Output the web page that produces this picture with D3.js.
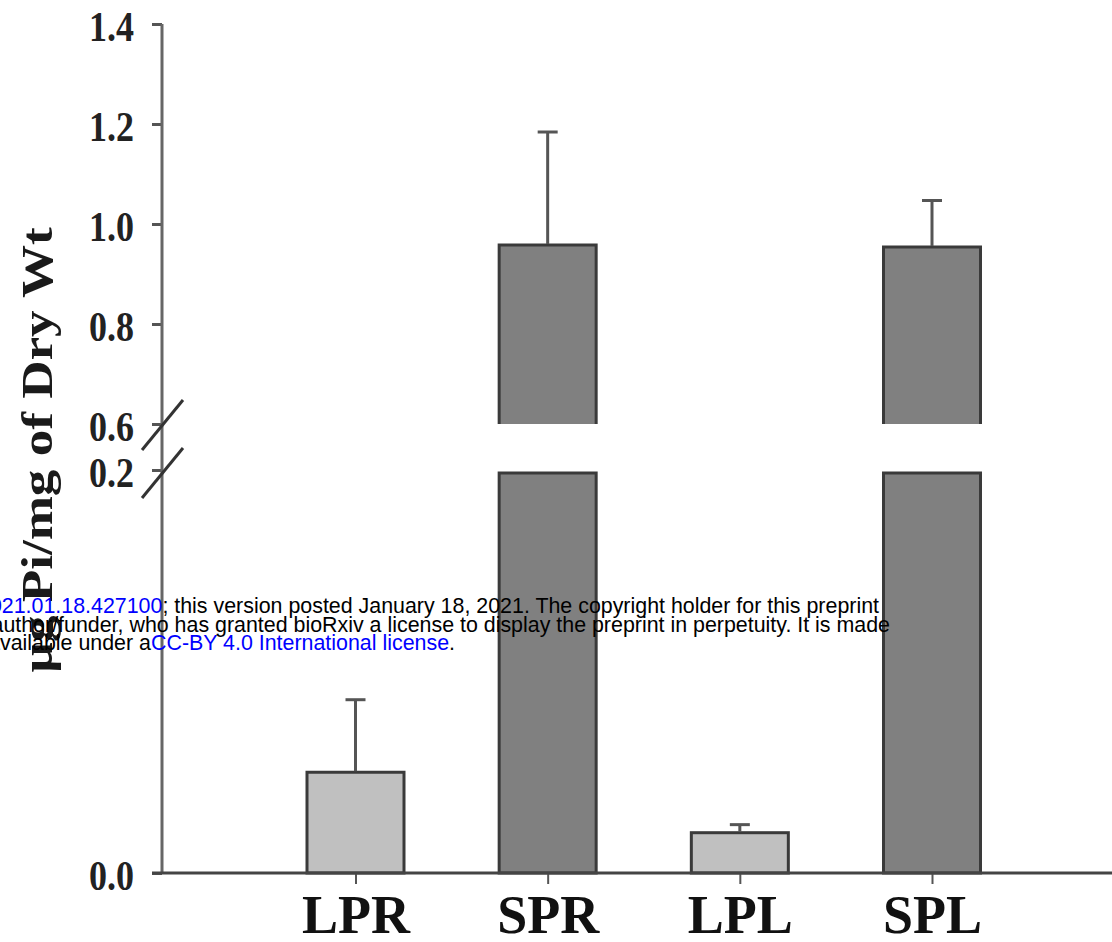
<!DOCTYPE html>
<html>
<head>
<meta charset="utf-8">
<script src="https://cdn.jsdelivr.net/npm/d3@7"></script>
<style>
    html, body { margin: 0; padding: 0; background: #fff; }
    svg { display: block; }
</style>
</head>
<body>
<div id="chart"></div>
<script>
const categories = ["LPR", "SPR", "LPL", "SPL"];
const means = [0.050, 0.958, 0.020, 0.954];
const errors = [0.036, 0.226, 0.004, 0.093];
const phosphate = ["low", "sufficient", "low", "sufficient"];
const upperTicks = [0.6, 0.8, 1.0, 1.2, 1.4];
const lowerTicks = [0.0, 0.2];
const yTitle = "\u00b5g Pi/mg of Dry Wt";

(function () {

    const width = 1112, height = 942;
    const axisX = 162;

    const svg = d3.select("#chart")
        .append("svg")
        .attr("width", width)
        .attr("height", height);

    // broken y axis: two linear pieces
    const yUpper = d3.scaleLinear().domain([0.6, 1.4]).range([424, 24]);
    const yLower = d3.scaleLinear().domain([0, 0.2]).range([873, 470]);
    const xScale = d3.scalePoint().domain(categories).range([355.5, 932]);
    const barW = 97;
    const fill = d => d === "low" ? "#c0c0c0" : "#808080";

    const data = categories.map((c, i) => ({ cat: c, mean: means[i], err: errors[i], p: phosphate[i] }));

    // bars, lower piece
    svg.append("g")
        .selectAll("rect")
        .data(data)
        .enter()
        .append("rect")
        .attr("x", d => xScale(d.cat) - barW / 2)
        .attr("width", barW)
        .attr("y", d => d.mean > 0.2 ? yLower(0.2) + 3 : yLower(d.mean))
        .attr("height", d => yLower(0) - (d.mean > 0.2 ? yLower(0.2) + 3 : yLower(d.mean)))
        .attr("fill", d => fill(d.p))
        .attr("stroke", "#3a3a3a")
        .attr("stroke-width", 3);

    // bars, upper piece
    const upper = data.filter(d => d.mean > 0.6);
    svg.append("g")
        .selectAll("rect")
        .data(upper)
        .enter()
        .append("rect")
        .attr("x", d => xScale(d.cat) - barW / 2)
        .attr("width", barW)
        .attr("y", d => yUpper(d.mean))
        .attr("height", d => yUpper(0.6) - yUpper(d.mean))
        .attr("fill", d => fill(d.p));

    svg.append("g")
        .selectAll("path")
        .data(upper)
        .enter()
        .append("path")
        .attr("d", d => {
            const x0 = xScale(d.cat) - barW / 2, x1 = x0 + barW;
            return `M${x0},${yUpper(0.6)}V${yUpper(d.mean)}H${x1}V${yUpper(0.6)}`;
        })
        .attr("fill", "none")
        .attr("stroke", "#3a3a3a")
        .attr("stroke-width", 3);

    // error bars
    const yOf = v => v > 0.6 ? yUpper(v) : yLower(v);
    const errs = svg.append("g")
        .attr("stroke", "#555")
        .attr("stroke-width", 3);

    errs.selectAll("line.stem")
        .data(data)
        .enter()
        .append("line")
        .attr("class", "stem")
        .attr("x1", d => xScale(d.cat))
        .attr("x2", d => xScale(d.cat))
        .attr("y1", d => yOf(d.mean) - 1)
        .attr("y2", d => yOf(d.mean + d.err));

    errs.selectAll("line.cap")
        .data(data)
        .enter()
        .append("line")
        .attr("class", "cap")
        .attr("x1", d => xScale(d.cat) - 10)
        .attr("x2", d => xScale(d.cat) + 10)
        .attr("y1", d => yOf(d.mean + d.err))
        .attr("y2", d => yOf(d.mean + d.err));

    // y axes
    const styleAxis = g => {
        g.select(".domain").remove();
        g.selectAll(".tick line").attr("stroke", "#555").attr("stroke-width", 3);
        g.selectAll(".tick text")
            .attr("font-family", "'Liberation Serif', 'Times New Roman', serif")
            .attr("font-weight", "bold")
            .attr("font-size", 36)
            .attr("fill", "#222")
            .attr("dy", 14)
            .attr("transform", "scale(1,1.15)");
    };

    svg.append("g")
        .attr("transform", `translate(${axisX},0)`)
        .call(d3.axisLeft(yUpper).tickValues(upperTicks).tickFormat(d3.format(".1f")).tickSize(10).tickPadding(18))
        .call(styleAxis);

    svg.append("g")
        .attr("transform", `translate(${axisX},0)`)
        .call(d3.axisLeft(yLower).tickValues(lowerTicks).tickFormat(d3.format(".1f")).tickSize(10).tickPadding(18))
        .call(styleAxis);

    svg.append("line")
        .attr("x1", axisX).attr("x2", axisX)
        .attr("y1", yUpper(1.4)).attr("y2", yLower(0))
        .attr("stroke", "#666")
        .attr("stroke-width", 3);

    // break marks
    svg.append("g")
        .selectAll("line")
        .data([yUpper(0.6) + 1, yLower(0.2) + 3])
        .enter()
        .append("line")
        .attr("x1", axisX - 20).attr("x2", axisX + 21)
        .attr("y1", d => d + 25).attr("y2", d => d - 25)
        .attr("stroke", "#333")
        .attr("stroke-width", 3);

    // x axis
    const xAxis = svg.append("g")
        .attr("transform", `translate(0,${yLower(0)})`)
        .call(d3.axisBottom(xScale).tickSize(11).tickPadding(11));

    xAxis.select(".domain").remove();
    xAxis.selectAll(".tick line").attr("stroke", "#555").attr("stroke-width", 2);
    xAxis.selectAll(".tick text")
        .attr("font-family", "'Liberation Serif', 'Times New Roman', serif")
        .attr("font-weight", "bold")
        .attr("font-size", 54)
        .attr("fill", "#111")
        .attr("dy", "0.71em");

    svg.append("line")
        .attr("x1", axisX - 10).attr("x2", width)
        .attr("y1", yLower(0)).attr("y2", yLower(0))
        .attr("stroke", "#444")
        .attr("stroke-width", 3);

    // y title
    svg.append("text")
        .attr("transform", "translate(52,450) rotate(-90) scale(1.18,1)")
        .attr("text-anchor", "middle")
        .attr("font-family", "'Liberation Serif', 'Times New Roman', serif")
        .attr("font-weight", "bold")
        .attr("font-size", 45)
        .attr("fill", "#1a1a1a")
        .text(yTitle);

    // preprint watermark on top
    const wm = svg.append("g")
        .attr("font-family", "'Liberation Sans', Arial, sans-serif")
        .attr("font-size", 21.4)
        .attr("text-anchor", "end");

    const line1 = wm.append("text").attr("x", 879).attr("y", 613);
    line1.append("tspan").text("bioRxiv preprint doi: ");
    line1.append("tspan").attr("fill", "#0000ff").text("https://doi.org/10.1101/2021.01.18.427100");
    line1.append("tspan").text("; this version posted January 18, 2021. The copyright holder for this preprint");

    wm.append("text").attr("x", 890).attr("y", 632)
        .text("(which was not certified by peer review) is the author/funder, who has granted bioRxiv a license to display the preprint in perpetuity. It is made");

    const line3 = wm.append("text").attr("x", 455).attr("y", 650);
    line3.append("tspan").text("available under a");
    line3.append("tspan").attr("fill", "#0000ff").text("CC-BY 4.0 International license");
    line3.append("tspan").text(".");

})()
</script>
</body>
</html>
